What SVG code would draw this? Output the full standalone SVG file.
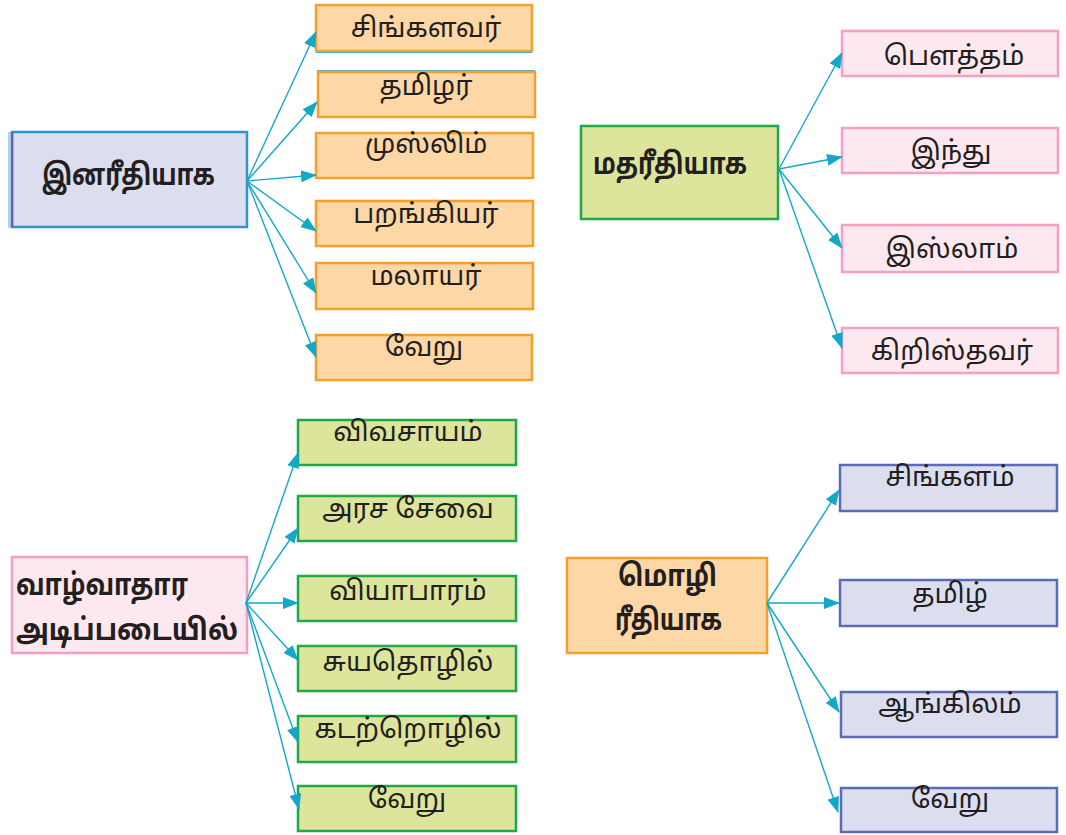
<svg xmlns="http://www.w3.org/2000/svg" width="1066" height="835" viewBox="0 0 1066 835">
<style>
text{font-family:"Noto Sans Tamil","Lohit Tamil","Noto Sans","DejaVu Sans",sans-serif;fill:#231f20}
.c{font-size:27px;text-anchor:middle}
.m{font-size:30px;font-weight:bold}
.orange{fill:#fdd7a6;stroke:#f6a02c;stroke-width:2.5}
.lav{fill:#dcdef0;stroke:#5b6bb5;stroke-width:2.5}
.grn{fill:#dce59b;stroke:#1ea84b;stroke-width:2.5}
.pink{fill:#fde8f0;stroke:#f3a0c4;stroke-width:2.5}
.con line{stroke:#13a8c8;stroke-width:1.4;marker-end:url(#ah)}
</style>
<defs>
<marker id="ah" markerUnits="userSpaceOnUse" markerWidth="16" markerHeight="12" viewBox="0 0 16 12" refX="15" refY="6" orient="auto">
<path d="M0,0 L16,6 L0,12 Z" fill="#13a8c8"/>
</marker>
</defs>
<rect width="1066" height="835" fill="#ffffff"/>

<g id="n-inam">
<line x1="9" y1="132" x2="9" y2="228" stroke="#39b6d6" stroke-width="1"/>
<rect x="12" y="132" width="235" height="95" fill="#dcdef0" stroke="#2e95cf" stroke-width="2.5"/>
<line x1="12" y1="132" x2="12" y2="227" stroke="#5a63b0" stroke-width="2.5"/>
<text class="m" x="42" y="185" textLength="173" lengthAdjust="spacingAndGlyphs">இனரீதியாக</text>
</g>
<g id="n-singalavar"><rect class="orange" x="316" y="5" width="216" height="46"/><line x1="316" y1="52.5" x2="532" y2="52.5" stroke="#39b6d6" stroke-width="1"/><text class="c" x="426" y="37">சிங்களவர்</text></g>
<g id="n-tamilar"><line x1="317" y1="70.5" x2="535" y2="70.5" stroke="#39b6d6" stroke-width="1"/><rect class="orange" x="318" y="72" width="217" height="45"/><text class="c" x="426" y="95">தமிழர்</text></g>
<g id="n-muslim"><rect class="orange" x="316" y="133" width="217" height="45"/><text class="c" x="426" y="153">முஸ்லிம்</text></g>
<g id="n-parangiyar"><rect class="orange" x="316" y="201" width="217" height="45"/><text class="c" x="426" y="223">பறங்கியர்</text></g>
<g id="n-malayar"><rect class="orange" x="316" y="263" width="217" height="46"/><text class="c" x="426" y="285">மலாயர்</text></g>
<g id="n-veru1"><rect class="orange" x="316" y="335" width="216" height="45"/><text class="c" x="424" y="356">வேறு</text></g>

<g id="n-matham">
<rect class="grn" x="581" y="126" width="197" height="93"/>
<text class="m" x="593" y="174" textLength="154" lengthAdjust="spacingAndGlyphs">மதரீதியாக</text>
</g>
<g id="n-bautham"><rect class="pink" x="842" y="31" width="216" height="45"/><text class="c" x="954" y="65">பௌத்தம்</text></g>
<g id="n-hindu"><rect class="pink" x="842" y="128" width="216" height="45"/><text class="c" x="951" y="160">இந்து</text></g>
<g id="n-islam"><rect class="pink" x="842" y="225" width="216" height="47"/><text class="c" x="952" y="258">இஸ்லாம்</text></g>
<g id="n-kiristhavar"><rect class="pink" x="842" y="328" width="216" height="45"/><text class="c" x="952" y="360">கிறிஸ்தவர்</text></g>

<g id="n-vazhvathara">
<rect class="pink" x="12" y="557" width="235" height="96"/>
<text class="m" x="16" y="595" textLength="172" lengthAdjust="spacingAndGlyphs">வாழ்வாதார</text>
<text class="m" x="16" y="640" textLength="222" lengthAdjust="spacingAndGlyphs">அடிப்படையில்</text>
</g>
<g id="n-vivasayam"><rect class="grn" x="298" y="420" width="218" height="45"/><text class="c" x="408" y="441">விவசாயம்</text></g>
<g id="n-arasa"><rect class="grn" x="298" y="496" width="218" height="45"/><text class="c" x="408" y="518">அரச சேவை</text></g>
<g id="n-viyaparam"><rect class="grn" x="298" y="576" width="218" height="45"/><text class="c" x="408" y="600">வியாபாரம்</text></g>
<g id="n-suyathozhil"><rect class="grn" x="298" y="646" width="218" height="45"/><text class="c" x="408" y="671">சுயதொழில்</text></g>
<g id="n-kadal"><rect class="grn" x="298" y="716" width="218" height="46"/><text class="c" x="408" y="738">கடற்றொழில்</text></g>
<g id="n-veru2"><rect class="grn" x="298" y="786" width="218" height="45"/><text class="c" x="407" y="808">வேறு</text></g>

<g id="n-mozhi">
<rect class="orange" x="567" y="558" width="200" height="95"/>
<text class="m" x="618" y="586" textLength="99" lengthAdjust="spacingAndGlyphs">மொழி</text>
<text class="m" x="615" y="630" textLength="107" lengthAdjust="spacingAndGlyphs">ரீதியாக</text>
</g>
<g id="n-singalam"><rect class="lav" x="840" y="465" width="217" height="46"/><text class="c" x="950" y="486">சிங்களம்</text></g>
<g id="n-tamil"><rect class="lav" x="840" y="580" width="217" height="46"/><text class="c" x="950" y="603">தமிழ்</text></g>
<g id="n-angilam"><rect class="lav" x="841" y="692" width="216" height="45"/><text class="c" x="950" y="713">ஆங்கிலம்</text></g>
<g id="n-veru3"><rect class="lav" x="841" y="788" width="216" height="44"/><text class="c" x="950" y="808">வேறு</text></g>

<g id="connectors" class="con">
<line x1="247" y1="181" x2="316" y2="32"/>
<line x1="247" y1="181" x2="317" y2="102"/>
<line x1="247" y1="181" x2="316" y2="175"/>
<line x1="247" y1="181" x2="316" y2="231"/>
<line x1="247" y1="181" x2="316" y2="293"/>
<line x1="247" y1="181" x2="316" y2="357"/>

<line x1="779" y1="169" x2="842" y2="53"/>
<line x1="779" y1="169" x2="842" y2="157"/>
<line x1="779" y1="169" x2="842" y2="248"/>
<line x1="779" y1="169" x2="842" y2="348"/>

<line x1="246" y1="603" x2="298" y2="453"/>
<line x1="246" y1="603" x2="298" y2="528"/>
<line x1="246" y1="603" x2="298" y2="603"/>
<line x1="246" y1="603" x2="298" y2="660"/>
<line x1="246" y1="603" x2="298" y2="742"/>
<line x1="246" y1="603" x2="299" y2="809"/>

<line x1="767" y1="603" x2="839" y2="490"/>
<line x1="767" y1="603" x2="839" y2="603"/>
<line x1="767" y1="603" x2="839" y2="712"/>
<line x1="767" y1="603" x2="838" y2="812"/>
</g>
</svg>
